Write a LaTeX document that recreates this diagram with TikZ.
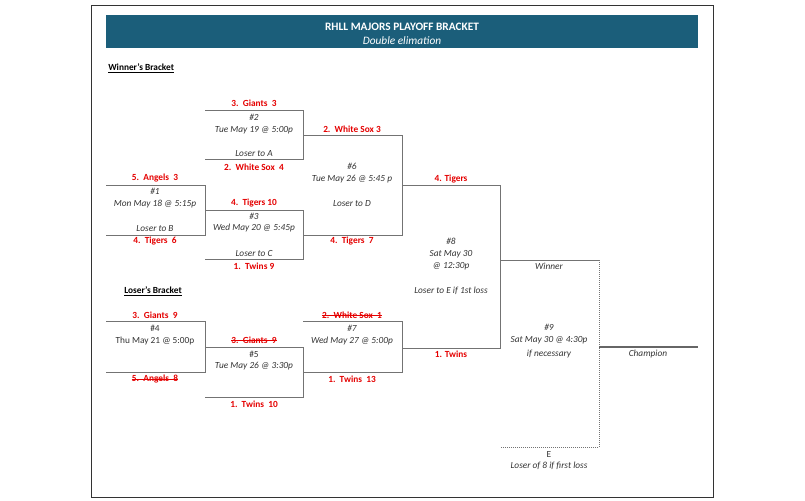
\documentclass[tikz,border=0pt]{standalone}
\usepackage{fontspec}
\setmainfont{Carlito}
\begin{document}
\begin{tikzpicture}[x=0.75pt,y=-0.75pt,
  ln/.style={draw=black!55,line width=0.6pt},
  dl/.style={draw=black!55,line width=0.5pt,densely dotted},
  t/.style={font=\fontsize{7}{8}\selectfont\itshape,text=black!80,inner sep=0pt},
  tn/.style={font=\fontsize{7}{8}\selectfont,text=black!80,inner sep=0pt},
  r/.style={font=\fontsize{7}{8}\selectfont\bfseries,text=red!90!black,inner sep=0pt},
  st/.style={r,append after command={(\tikzlastnode.west) edge[draw=red!90!black,line width=0.5pt] (\tikzlastnode.east)}},
  hd/.style={font=\fontsize{7}{8}\selectfont\bfseries,inner sep=0pt,anchor=west}]
\useasboundingbox (0,0) rectangle (805,500);
\fill[white] (0,0) rectangle (805,500);
\draw[black!80,line width=0.6pt] (91,5) rectangle (713,497);
\fill[fill={rgb,255:red,27;green,94;blue,122}] (106,15) rectangle (698,48);
\node[font=\fontsize{8.5}{10}\selectfont\bfseries,text=white] (title) at (402,27) {RHLL MAJORS PLAYOFF BRACKET};
\node[font=\fontsize{8.5}{10}\selectfont\itshape,text=white] (sub) at (402,41) {Double elimation};
\node[hd] (wb) at (108,68) {\underline{Winner's Bracket}};
\node[hd] (lb) at (124,291) {\underline{Loser's Bracket}};
% Game 2
\draw[ln] (205,110) -- (303,110) -- (303,159) -- (205,159);
\node[r] (g2a) at (254,103) {3.\ \ Giants\ \ 3};
\node[t] (g2n) at (254,117) {\#2};
\node[t] (g2d) at (254,130) {Tue May 19 @ 5:00p};
\node[t] (g2l) at (254,154) {Loser to A};
\node[r] (g2b) at (254,167) {2.\ \ White Sox\ \ 4};
% Game 1
\draw[ln] (106,185) -- (205,185) -- (205,235) -- (106,235);
\node[r] (g1a) at (155,178) {5.\ \ Angels\ \ 3};
\node[t] (g1n) at (155,191) {\#1};
\node[t] (g1d) at (155,204) {Mon May 18 @ 5:15p};
\node[t] (g1l) at (155,229) {Loser to B};
\node[r] (g1b) at (155,241) {4.\ \ Tigers\ \ 6};
% Game 3
\draw[ln] (205,210) -- (303,210) -- (303,259) -- (205,259);
\node[r] (g3a) at (254,203) {4.\ \ Tigers 10};
\node[t] (g3n) at (254,216) {\#3};
\node[t] (g3d) at (254,228) {Wed May 20 @ 5:45p};
\node[t] (g3l) at (254,253) {Loser to C};
\node[r] (g3b) at (254,266) {1.\ \ Twins 9};
% Game 6
\draw[ln] (303,135) -- (402,135) -- (402,235) -- (303,235);
\node[r] (g6a) at (352,129) {2.\ \ White Sox\ 3};
\node[t] (g6n) at (352,166) {\#6};
\node[t] (g6d) at (352,179) {Tue May 26 @ 5:45 p};
\node[t] (g6l) at (352,204) {Loser to D};
\node[r] (g6b) at (352,241) {4.\ \ Tigers\ \ 7};
% Game 8
\draw[ln] (402,185) -- (500,185) -- (500,348) -- (402,348);
\node[r] (g8a) at (451,179) {4. Tigers};
\node[t] (g8n) at (451,241) {\#8};
\node[t] (g8d) at (451,254) {Sat May 30};
\node[t] (g8e) at (451,266) {@ 12:30p};
\node[t] (g8l) at (451,291) {Loser to E if 1st loss};
\node[r] (g8b) at (451,354) {1. Twins};
% Game 9
\draw[ln] (500,260) -- (599,260);
\draw[dl] (599,260) -- (599,447) -- (500,447);
\node[t] (w) at (549,266) {Winner};
\node[t] (g9n) at (549,327) {\#9};
\node[t] (g9d) at (549,340) {Sat May 30 @ 4:30p};
\node[t] (g9e) at (549,354) {if necessary};
\draw[draw=black!60,line width=1.2pt] (599,347) -- (698,347);
\node[t] (ch) at (648,354) {Champion};
\node[tn] (e) at (549,454) {E};
\node[t] (el) at (549,466) {Loser of 8 if first loss};
% Game 4
\draw[ln] (106,321) -- (205,321) -- (205,372) -- (106,372);
\node[r] (g4a) at (155,315) {3.\ \ Giants\ \ 9};
\node[tn] (g4n) at (155,328) {\#4};
\node[tn] (g4d) at (155,341) {Thu May 21 @ 5:00p};
\node[st] (g4b) at (155,379) {5.\ \ Angels\ \ 8};
% Game 5
\draw[ln] (205,347) -- (303,347) -- (303,397) -- (205,397);
\node[st] (g5a) at (254,340) {3.\ \ Giants\ \ 9};
\node[tn] (g5n) at (254,354) {\#5};
\node[t] (g5d) at (254,366) {Tue May 26 @ 3:30p};
\node[r] (g5b) at (254,404) {1.\ \ Twins\ \ 10};
% Game 7
\draw[ln] (303,321) -- (402,321) -- (402,372) -- (303,372);
\node[st] (g7a) at (352,315) {2.\ \ White Sox\ \ 1};
\node[t] (g7n) at (352,328) {\#7};
\node[t] (g7d) at (352,341) {Wed May 27 @ 5:00p};
\node[r] (g7b) at (352,379) {1.\ \ Twins\ \ 13};
\end{tikzpicture}
\end{document}
